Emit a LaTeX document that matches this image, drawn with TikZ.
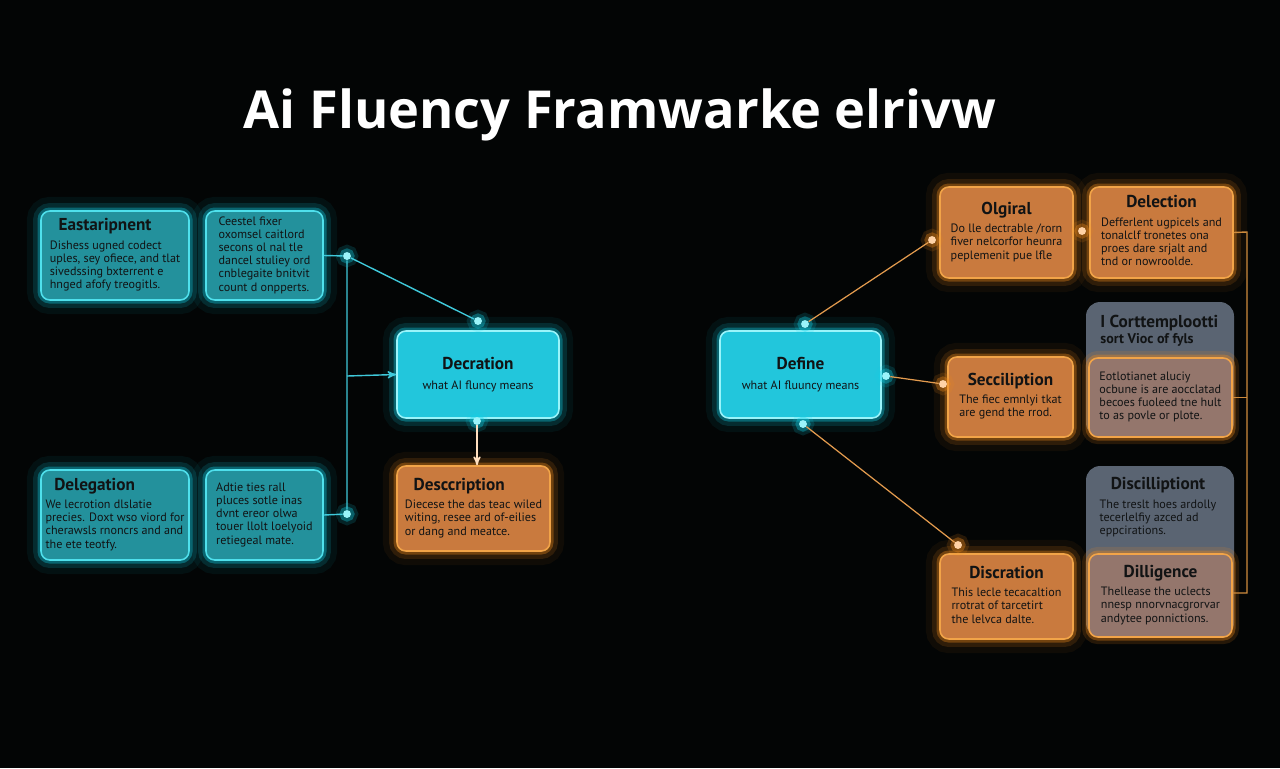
\documentclass[tikz,border=0pt]{standalone}
\usepackage{fontspec}
\setmainfont{PT Sans}
\newfontfamily\headfont{Open Sans}
\usepackage{tikz}
\usetikzlibrary{arrows}
\tikzset{>=stealth'}
\definecolor{bgc}{HTML}{030505}
\definecolor{tealfill}{HTML}{23919C}
\definecolor{tealedge}{HTML}{4FE0EC}
\definecolor{cyanglow}{HTML}{12D2E8}
\definecolor{cyanfill}{HTML}{22C6DC}
\definecolor{cyanedge}{HTML}{9AF4FA}
\definecolor{orgfill}{HTML}{C97A3E}
\definecolor{orgedge}{HTML}{F2A448}
\definecolor{orgglow}{HTML}{F08A1C}
\definecolor{grayfill}{HTML}{5A6472}
\definecolor{mixfill}{HTML}{94766C}
\definecolor{ink}{HTML}{111314}
\definecolor{wireC}{HTML}{3FC9DA}
\definecolor{wireO}{HTML}{E39B4E}
\newcommand{\cardtit}{\fontsize{9.8}{11}\selectfont\bfseries}
\newcommand{\cardC}[2]{\begin{tabular}{@{}l@{}}\multicolumn{1}{@{}c@{}}{\cardtit #1}\\[3pt] #2\end{tabular}}
\newcommand{\cardL}[2]{\begin{tabular}{@{}l@{}}\hspace*{5pt}{\cardtit #1}\\[3pt] #2\end{tabular}}
\newcommand{\cardB}[1]{\begin{tabular}{@{}l@{}}#1\end{tabular}}
\tikzset{
  glow/.style={preaction={draw=#1,draw opacity=.06,line width=16pt},
    preaction={draw=#1,draw opacity=.14,line width=9pt},
    preaction={draw=#1,draw opacity=.35,line width=4pt}},
  dotglow/.style={preaction={draw=#1,draw opacity=.15,line width=8pt},
    preaction={draw=#1,draw opacity=.35,line width=4pt}},
  card/.style={rounded corners=5pt, line width=0.9pt, text=ink, inner sep=0pt,
    font=\fontsize{6.9}{7.5}\selectfont},
  tealcard/.style={card, draw=tealedge, fill=tealfill, glow=cyanglow},
  maincard/.style={card, draw=cyanedge, fill=cyanfill, glow=cyanglow, align=center},
  orgcard/.style={card, draw=orgedge, fill=orgfill, glow=orgglow},
  mixcard/.style={card, draw=orgedge, fill=mixfill, dotglow=orgglow},
  graybox/.style={rounded corners=8pt, fill=grayfill, minimum width=2.96cm},
  graytext/.style={text=ink, inner sep=0pt, font=\fontsize{6.9}{7.5}\selectfont},
  dotc/.style={circle, inner sep=0pt, minimum size=4.5pt, fill=cyanedge, dotglow=cyanglow},
  doto/.style={circle, inner sep=0pt, minimum size=4.5pt, fill=orange!35!white, dotglow=orgglow},
  wirec/.style={draw=wireC, line width=0.8pt},
  wireo/.style={draw=wireO, line width=0.7pt},
  bracket/.style={draw=orgedge!85!black, line width=0.8pt},
  titletext/.style={text=white, anchor=base, font=\headfont\fontsize{29.8}{34}\selectfont\bfseries}
}

\begin{document}
\begin{tikzpicture}[x=0.02cm,y=-0.02cm]
\fill[bgc] (0,0) rectangle (1280,768);
\useasboundingbox (0,0) rectangle (1280,768);

\node[titletext] (title) at (620,128) {Ai Fluency Framwarke elrivw};

% left side
\node[tealcard, minimum width=2.96cm, minimum height=1.78cm] (east) at (115,255.5)
  {\cardL{Eastaripnent}{Dishess ugned codect\\ uples, sey ofiece, and tlat\\ sivedssing bxterrent e\\ hnged afofy treogitls.}};
\node[tealcard, minimum width=2.34cm, minimum height=1.78cm] (ceest) at (264.5,255.5)
  {\cardB{Ceestel fixer\\ oxomsel caitlord\\ secons ol nal tle\\ dancel stuliey ord\\ cnblegaite bnitvit\\ count d onpperts.}};
\node[tealcard, minimum width=2.96cm, minimum height=1.80cm] (deleg) at (115,515)
  {\cardL{Delegation}{We lecrotion dlslatie\\ precies. Doxt wso viord for\\ cherawsls rnoncrs and and\\ the ete teotfy.}};
\node[tealcard, minimum width=2.34cm, minimum height=1.80cm] (adtie) at (264.5,515)
  {\cardB{Adtie ties rall\\ pluces sotle inas\\ dvnt ereor olwa\\ touer llolt loelyoid\\ retiegeal mate.}};
\node[maincard, minimum width=3.24cm, minimum height=1.74cm] (decr) at (478,374.5)
  {{\cardtit Decration}\\[4pt] what AI fluncy means};
\node[orgcard, minimum width=3.06cm, minimum height=1.70cm] (descr) at (473.5,508.5)
  {\cardL{Desccription}{Diecese the das teac wiled\\ witing, resee ard of-eilies\\ or dang and meatce.}};

% right side
\node[maincard, minimum width=3.22cm, minimum height=1.74cm] (define) at (800.5,374.5)
  {{\cardtit Define}\\[4pt] what AI fluuncy means};
\node[orgcard, minimum width=2.66cm, minimum height=1.82cm] (olg) at (1006.5,232.5)
  {\cardC{Olgiral}{Do lle dectrable /rorn\\ fiver nelcorfor heunra\\ peplemenit pue lfle}};
\node[orgcard, minimum width=2.86cm, minimum height=1.82cm] (delec) at (1161.5,232.5)
  {\cardC{Delection}{Defferlent ugpicels and\\ tonalclf tronetes ona\\ proes dare srjalt and\\ tnd or nowroolde.}};
\node[graybox, minimum height=2.70cm] (topgray) at (1160,369.5) {};
\node[graytext, anchor=north west] (topgraytxt) at (1100,315)
  {\begin{tabular}{@{}l@{}}{\cardtit I Corttemplootti}\\[1pt] {\fontsize{8}{9.5}\selectfont\bfseries sort Vioc of fyls}\end{tabular}};
\node[mixcard, minimum width=2.86cm, minimum height=1.58cm] (eotl) at (1160.5,397.5)
  {\cardB{Eotlotianet aluciy\\ ocbune is are aocclatad\\ becoes fuoleed tne hult\\ to as povle or plote.}};
\node[orgcard, minimum width=2.50cm, minimum height=1.60cm] (seccil) at (1010.5,397)
  {\cardC{Secciliption}{The fiec emnlyi tkat\\ are gend the rrod.}};
\node[graybox, minimum height=3.42cm] (lowgray) at (1160,551.5) {};
\node[graytext, anchor=north] (lowgraytxt) at (1158,477)
  {\cardC{Discilliptiont}{The treslt hoes ardolly\\ tecerlelfiy azced ad\\ eppcirations.}};
\node[mixcard, minimum width=2.86cm, minimum height=1.66cm] (dilig) at (1160.5,595.5)
  {\cardC{Dilligence}{Thellease the uclects\\ nnesp nnorvnacgrorvar\\ andytee ponnictions.}};
\node[orgcard, minimum width=2.66cm, minimum height=1.70cm] (discr) at (1006.5,596.5)
  {\cardC{Discration}{This lecle tecacaltion\\ rrotrat of tarcetirt\\ the lelvca dalte.}};

% left connectors
\node[dotc] (jt) at (347,256) {};
\node[dotc] (jb) at (347,514) {};
\coordinate (jm) at (347,376);
\node[dotc] (dtop) at (478,321) {};
\node[dotc] (dbot) at (477,421) {};
\draw[wirec] (ceest.east) -- (jt) -- (jb);
\draw[wirec] (adtie.east) -- (jb);
\draw[wirec] (jt) -- (dtop);
\draw[wirec,->] (jm) -- (decr.west);
\draw[draw=orange!25!white, line width=0.8pt, ->] (dbot) -- (dbot |- descr.north);

% right connectors
\node[dotc] (rt) at (805,324) {};
\node[dotc] (rm) at (886,376) {};
\node[dotc] (rb) at (803,424) {};
\node[doto] (ot) at (932,240) {};
\node[doto] (om) at (943,384) {};
\node[doto] (ob) at (958,545) {};
\node[doto] (olink) at (1082,231) {};
\draw[wireo] (rt) -- (ot);
\draw[wireo] (rm) -- (om);
\draw[wireo] (rb) -- (ob);
\coordinate (bt) at (1247,232);
\coordinate (bb) at (1247,593);
\draw[bracket] (delec.east) -- (bt) -- (bb) -- (dilig.east |- bb);
\draw[bracket] (eotl.east) -- (eotl.east -| bt);
\end{tikzpicture}
\end{document}
